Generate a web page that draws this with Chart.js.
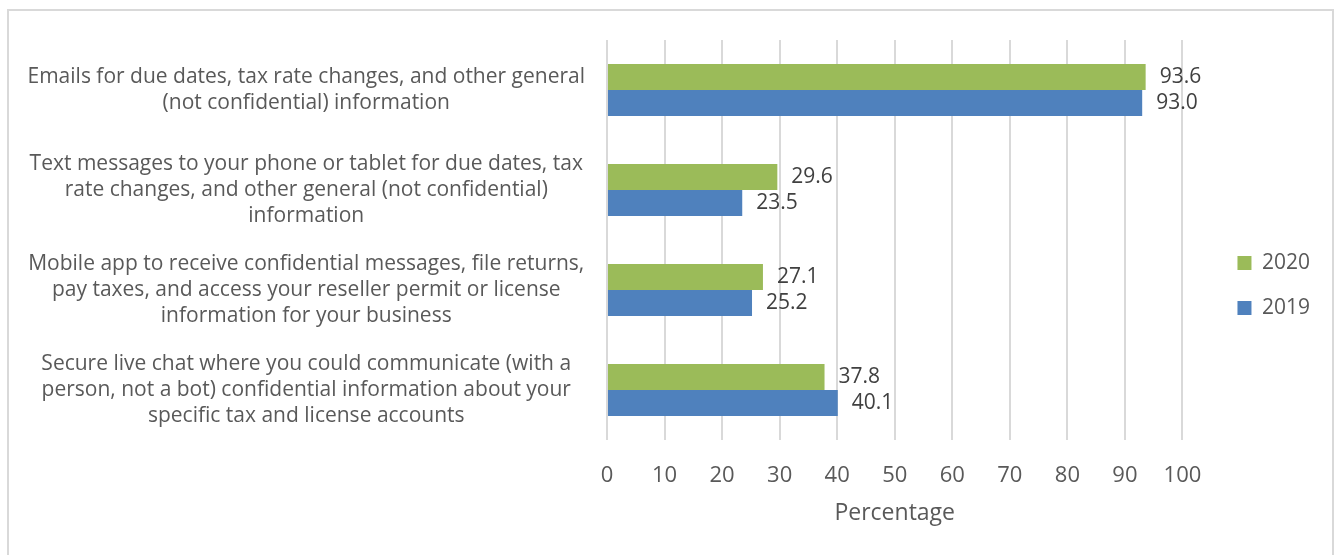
<!DOCTYPE html>
<html>
<head>
<meta charset="utf-8">
<script src="https://cdn.jsdelivr.net/npm/chart.js@4/dist/chart.umd.min.js"></script>
<style>
  html, body { margin: 0; padding: 0; background: #ffffff; overflow: hidden; }
  #frame { position: absolute; left: 7px; top: 9px; width: 1327px; height: 560px; border: 2px solid #D9D9D9; box-sizing: border-box; }
  #c { position: absolute; left: 0; top: 0; }
</style>
</head>
<body>
<div id="frame"></div>
<canvas id="c" width="1338" height="555"></canvas>
<script>
const categories = [
  ["Emails for due dates, tax rate changes, and other general", "(not confidential) information"],
  ["Text messages to your phone or tablet for due dates, tax", "rate changes, and other general (not confidential)", "information"],
  ["Mobile app to receive confidential messages, file returns,", "pay taxes, and access your reseller permit or license", "information for your business"],
  ["Secure live chat where you could communicate (with a", "person, not a bot) confidential information about your", "specific tax and license accounts"]
];
const seriesNames = ["2020", "2019"];
const values2020 = [93.6, 29.6, 27.1, 37.8];
const values2019 = [93.0, 23.5, 25.2, 40.1];
const xTickValues = [0, 10, 20, 30, 40, 50, 60, 70, 80, 90, 100];
const axisTitle = "Percentage";

const FONT = "'Open Sans', 'Noto Sans', sans-serif";
const TEXT = "#595959";

const valueLabels = {
  id: "valueLabels",
  afterLayout(chart) {
    // push legend block right to leave the reference's gap after the plot
    const lg = chart.legend;
    if (lg) { lg.left += 31; lg.right += 31; lg.top += 2; lg.bottom += 2; }
  },
  afterDatasetsDraw(chart) {
    const ctx = chart.ctx;
    ctx.save();
    ctx.font = "21px " + FONT;
    ctx.fillStyle = "#404040";
    ctx.textAlign = "left";
    ctx.textBaseline = "middle";
    chart.data.datasets.forEach((ds, di) => {
      const meta = chart.getDatasetMeta(di);
      meta.data.forEach((bar, i) => {
        ctx.fillText(ds.data[i].toFixed(1), bar.x + 14, bar.y);
      });
    });
    ctx.restore();
  }
};

new Chart(document.getElementById("c"), {
  type: "bar",
  data: {
    labels: categories,
    datasets: [
      { label: seriesNames[0], data: values2020, backgroundColor: "#9BBB59", categoryPercentage: 0.52, barPercentage: 1.0 },
      { label: seriesNames[1], data: values2019, backgroundColor: "#4F81BD", categoryPercentage: 0.52, barPercentage: 1.0 }
    ]
  },
  options: {
    indexAxis: "y",
    responsive: false,
    animation: false,
    layout: { padding: { top: 40, left: 20, right: 49, bottom: 28 } },
    plugins: {
      legend: {
        position: "right",
        labels: { boxWidth: 14, boxHeight: 14, padding: 24, color: TEXT, font: { family: FONT, size: 21 } }
      },
      tooltip: { enabled: false }
    },
    scales: {
      x: {
        min: 0, max: 100,
        afterBuildTicks(scale) { scale.ticks = xTickValues.map(v => ({ value: v })); },
        ticks: { color: TEXT, font: { family: FONT, size: 22 }, padding: 23 },
        grid: { color: "#D9D9D9", lineWidth: 2, drawTicks: false },
        border: { display: false },
        title: { display: true, text: axisTitle, color: TEXT, font: { family: FONT, size: 23 }, padding: { top: -13, bottom: 0 } }
      },
      y: {
        grid: { display: false, drawTicks: false },
        border: { display: false },
        ticks: { color: TEXT, font: { family: FONT, size: 21, lineHeight: 1.24 }, crossAlign: "center", padding: 22 },
        afterFit(scale) { scale.width = 587; scale.paddingTop = 0; scale.paddingBottom = 0; }
      }
    }
  },
  plugins: [valueLabels]
});
</script>
</body>
</html>
